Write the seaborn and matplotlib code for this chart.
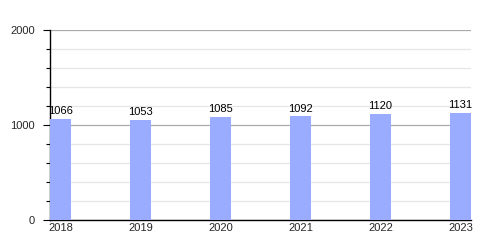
import matplotlib
matplotlib.use("Agg")
import matplotlib.pyplot as plt
import seaborn as sns
import pandas as pd
from matplotlib.ticker import MultipleLocator

years = ["2018", "2019", "2020", "2021", "2022", "2023"]
values = [1066, 1053, 1085, 1092, 1120, 1131]

sns.set_style("white")
plt.rcParams['font.family'] = ['Liberation Sans', 'DejaVu Sans']

df = pd.DataFrame({"year": years, "value": values})
fig = plt.figure(figsize=(5, 2.5), dpi=100)
ax = fig.add_axes([0.1, 0.12, 0.842, 0.759])

sns.barplot(data=df, x="year", y="value", color="#99acff", saturation=1,
            width=0.2625, ax=ax, zorder=3, linewidth=0, edgecolor="none")

ax.set_ylim(0, 2000)
ax.set_xlim(-0.131, 5.131)
ax.yaxis.set_major_locator(MultipleLocator(1000))
ax.yaxis.set_minor_locator(MultipleLocator(200))
ax.grid(axis="y", which="major", color="#aaaaaa", linewidth=0.9, zorder=0)
ax.grid(axis="y", which="minor", color="#e6e6e6", linewidth=0.9, zorder=0)
ax.set_axisbelow(True)

for s in ["top", "right"]:
    ax.spines[s].set_visible(False)
for s in ["left", "bottom"]:
    ax.spines[s].set_color("black")
    ax.spines[s].set_linewidth(1.0)

ax.tick_params(axis="y", which="major", length=5, width=0.8, color="black",
               labelsize=8, pad=6, left=True)
ax.tick_params(axis="y", which="minor", length=3, width=0.8, color="black", left=True)
ax.tick_params(axis="x", length=0, labelsize=8, pad=2)
ax.set_xlabel("")
ax.set_ylabel("")

for i, v in enumerate(values):
    ax.text(i, v + 30, str(v), ha="center", va="bottom", fontsize=8, color="black")

fig.savefig("out.png", dpi=100)
